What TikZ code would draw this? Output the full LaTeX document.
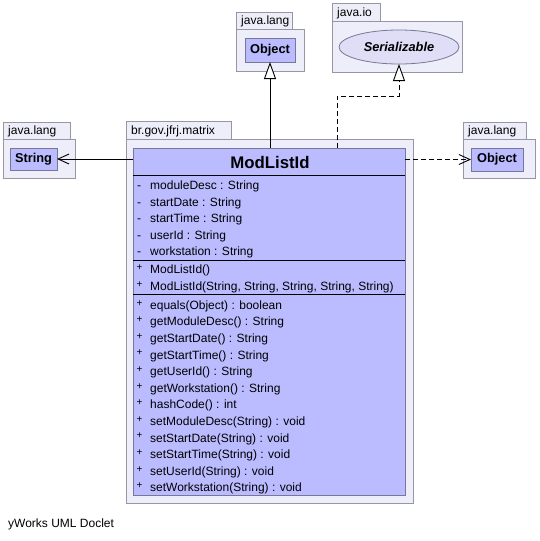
\documentclass[tikz,border=0pt]{standalone}
\usepackage{fontspec}
\setmainfont{Liberation Sans}
\usetikzlibrary{arrows.meta,shapes.geometric}

\definecolor{pkgfill}{RGB}{238,238,250}
\definecolor{pkgline}{RGB}{150,150,165}
\definecolor{clsfill}{RGB}{187,187,255}
\definecolor{clsline}{RGB}{120,120,150}
\definecolor{ifcfill}{RGB}{222,222,246}

\tikzset{
  pkgpart/.style={draw=pkgline, fill=pkgfill, line width=0.8pt, anchor=north west,
    inner sep=0pt, outer sep=0pt},
  pkglabel/.style={anchor=base west, inner sep=0pt, font=\fontsize{12}{14}\selectfont},
  typebox/.style={draw=clsline, fill=clsfill, line width=0.8pt, inner sep=0pt, outer sep=0pt,
    font=\fontsize{12.8}{14}\selectfont\bfseries},
  ifcbox/.style={ellipse, draw=clsline, fill=ifcfill, line width=0.8pt, inner sep=0pt, outer sep=0pt,
    font=\fontsize{12.8}{14}\selectfont\bfseries\itshape},
  classbox/.style={draw=clsline, fill=clsfill, line width=0.8pt, anchor=north west,
    inner sep=0pt, outer sep=0pt},
  member/.style={anchor=base west, inner sep=0pt, font=\fontsize{12}{14}\selectfont},
  vis/.style={anchor=base west, inner sep=0pt, font=\fontsize{12}{14}\selectfont},
  sepline/.style={draw=black, line width=0.8pt},
  generalize/.style={draw=black, line width=0.9pt,
    -{Triangle[length=17pt,width=12pt,fill=white,line width=0.9pt]}},
  realize/.style={generalize, dash pattern=on 5pt off 3pt},
  assoc/.style={draw=black, line width=0.9pt,
    -{Straight Barb[length=11pt,width=10pt,line width=0.9pt]}},
  depend/.style={assoc, dash pattern=on 5pt off 3pt},
}

% package = tab + body, with its name set in the tab
\newcommand{\umlpkg}[8]{%
  \node[pkgpart, minimum width=#4 pt, minimum height=#5 pt] (#1tab) at (#2,#3) {};
  \node[pkgpart, minimum width=#6 pt, minimum height=#7 pt] (#1body) at (#2,#3+#5) {};
  \node[pkglabel] (#1name) at (#2+5,#3+#5-4.5) {#8};
}

\begin{document}
\begin{tikzpicture}[x=1pt,y=-1pt]
\useasboundingbox (0,0) rectangle (539,541);
\fill[white] (0,0) rectangle (539,541);

% packages
\umlpkg{pl}{3}{122}{67}{17}{72}{39}{java.lang}
\umlpkg{pt}{236}{12}{56}{17}{68}{42}{java.lang}
\umlpkg{pi}{332}{3}{48}{18}{130}{51}{java.io}
\umlpkg{pr}{463}{122}{63}{17}{72}{39}{java.lang}
\umlpkg{pm}{126}{121}{105}{18}{287}{364}{br.gov.jfrj.matrix}

% referenced types
\node[typebox, minimum width=47pt, minimum height=22pt] (str) at (33.5,159) {String};
\node[typebox, minimum width=50pt, minimum height=24pt] (objtop) at (270,50) {Object};
\node[typebox, minimum width=52pt, minimum height=23pt] (objright) at (497,159.5) {Object};
\node[ifcbox, minimum width=120pt, minimum height=34pt] (ser) at (399,47) {Serializable};

% the class
\node[classbox, minimum width=272pt, minimum height=347pt] (cls) at (133,148) {};
\node[anchor=base, inner sep=0pt, font=\fontsize{16.8}{18}\selectfont\bfseries] (clsname)
  at (270,168.5) {ModListId};
\draw[sepline] (133,175.5) -- (405,175.5);
\draw[sepline] (133,260) -- (405,260);
\draw[sepline] (133,294) -- (405,294);

% attributes
\foreach \t [count=\i from 0] in {moduleDesc : String, startDate : String,
    startTime : String, userId : String, workstation : String} {
  \node[vis] at (137,189.8+16.5*\i) {-};
  \node[member] at (150,189.8+16.5*\i) {\t};
}
% constructors
\foreach \t [count=\i from 0] in {ModListId(), {ModListId(String, String, String, String, String)}} {
  \node[vis, font=\fontsize{10}{12}\selectfont] at (136.5,270.5+16.8*\i) {+};
  \node[member] at (150,273.8+16.8*\i) {\t};
}
% methods
\foreach \t [count=\i from 0] in {equals(Object) : boolean, getModuleDesc() : String,
    getStartDate() : String, getStartTime() : String, getUserId() : String,
    getWorkstation() : String, hashCode() : int, setModuleDesc(String) : void,
    setStartDate(String) : void, setStartTime(String) : void,
    setUserId(String) : void, setWorkstation(String) : void} {
  \node[vis, font=\fontsize{10}{12}\selectfont] at (136.5,306+16.6*\i) {+};
  \node[member] at (150,309.3+16.6*\i) {\t};
}

% relations
\draw[generalize] (objtop.south |- cls.north) -- (objtop.south);
\coordinate (realizeFrom) at (337,148);
\coordinate (realizeBend) at (337,96);
\draw[realize] (realizeFrom) -- (realizeBend) -| (ser.south);
\draw[assoc] (cls.north west |- str.east) -- (str.east);
\draw[depend] (cls.north east |- objright.west) -- (objright.west);

% footer
\node[anchor=base west, inner sep=0pt, font=\fontsize{12}{14}\selectfont] (footer)
  at (8,527) {yWorks UML Doclet};
\end{tikzpicture}
\end{document}
